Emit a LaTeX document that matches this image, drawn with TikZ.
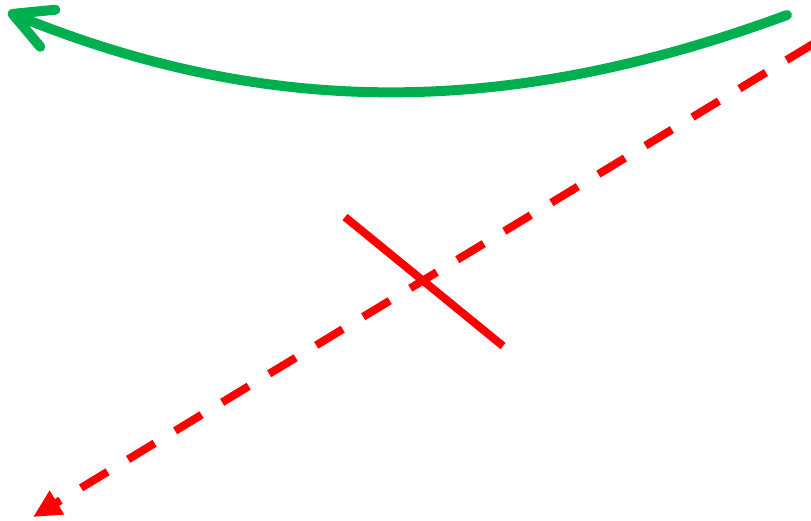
\documentclass[tikz,border=0pt]{standalone}
\usetikzlibrary{arrows.meta}
\definecolor{arrowgreen}{RGB}{0,176,80}
\definecolor{markred}{RGB}{255,0,0}
\begin{document}
\begin{tikzpicture}[x=1pt,y=-1pt,
  greenarrow/.style={draw=arrowgreen,line width=10pt,line cap=round,
    -{Straight Barb[length=38pt,width=40pt,round,line width=10pt]}},
  reddash/.style={draw=markred,line width=8pt,dash pattern=on 31pt off 24pt,
    -{Triangle[length=28pt,width=26pt]}},
  redsolid/.style={draw=markred,line width=8pt}]
\useasboundingbox (0,0) rectangle (811,520);
\coordinate (gs) at (787,15);
\coordinate (ge) at (8,12);
\coordinate (ds) at (813,44);
\coordinate (de) at (33,517);
\coordinate (ss) at (345,217);
\coordinate (se) at (503,346);
\draw[greenarrow] (gs) .. controls (508,118) and (268,118) .. (ge);
\draw[reddash] (ds) -- (de);
\draw[redsolid] (ss) -- (se);
\end{tikzpicture}
\end{document}
